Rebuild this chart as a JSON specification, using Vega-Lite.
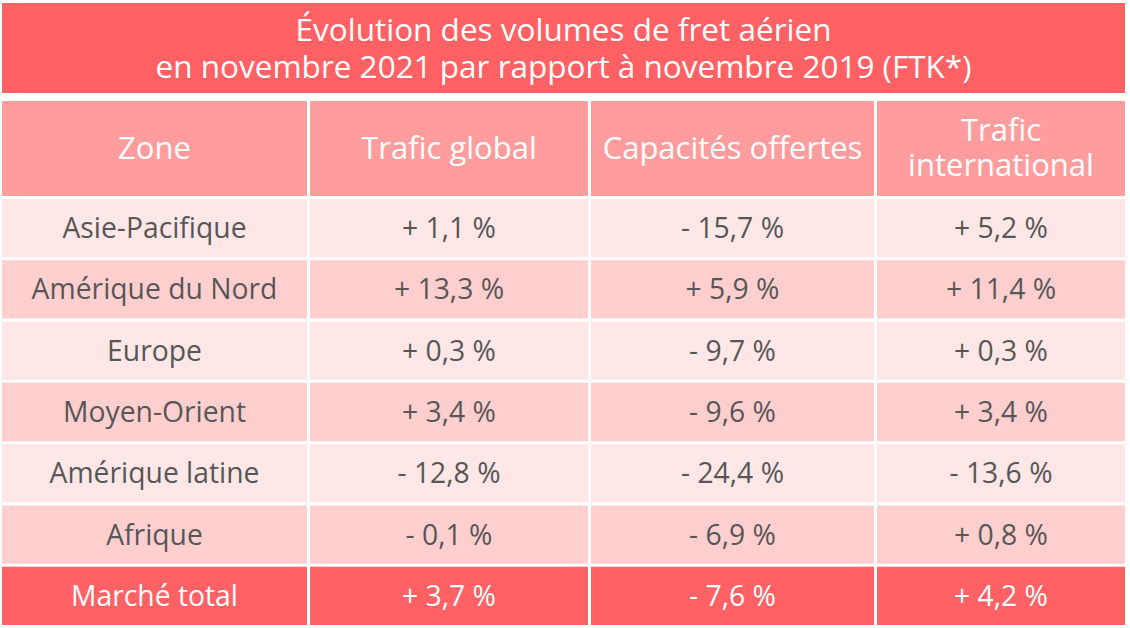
{
  "$schema": "https://vega.github.io/schema/vega-lite/v6.json",
  "padding": {"left": 2, "top": 3, "right": 5, "bottom": 3},
  "autosize": {"type": "pad"},
  "background": "white",
  "config": {
    "view": {"stroke": null},
    "text": {"font": "Open Sans"},
    "concat": {"spacing": 3}
  },
  "datasets": {
    "rows": [
      {"zone": "Asie-Pacifique", "global": "+ 1,1 %", "capacites": "- 15,7 %", "international": "+ 5,2 %", "kind": "light"},
      {"zone": "Amérique du Nord", "global": "+ 13,3 %", "capacites": "+ 5,9 %", "international": "+ 11,4 %", "kind": "dark"},
      {"zone": "Europe", "global": "+ 0,3 %", "capacites": "- 9,7 %", "international": "+ 0,3 %", "kind": "light"},
      {"zone": "Moyen-Orient", "global": "+ 3,4 %", "capacites": "- 9,6 %", "international": "+ 3,4 %", "kind": "dark"},
      {"zone": "Amérique latine", "global": "- 12,8 %", "capacites": "- 24,4 %", "international": "- 13,6 %", "kind": "light"},
      {"zone": "Afrique", "global": "- 0,1 %", "capacites": "- 6,9 %", "international": "+ 0,8 %", "kind": "dark"},
      {"zone": "Marché total", "global": "+ 3,7 %", "capacites": "- 7,6 %", "international": "+ 4,2 %", "kind": "total"}
    ]
  },
  "spacing": 8,
  "vconcat": [
    {
      "width": 1123,
      "height": 90,
      "view": {"fill": "#FF6164", "stroke": null},
      "data": {"values": [{"t": "Évolution des volumes de fret aérien\nen novembre 2021 par rapport à novembre 2019 (FTK*)"}]},
      "mark": {"type": "text", "lineBreak": "\n", "fontSize": 31.5, "lineHeight": 37, "color": "white", "baseline": "middle", "align": "center", "dy": -16},
      "encoding": {"text": {"field": "t"}}
    },
    {
      "spacing": 3,
      "vconcat": [
        {
          "spacing": 3,
          "hconcat": [
            {
              "width": 305, "height": 95,
              "view": {"fill": "#FF9C9D", "stroke": null},
              "data": {"values": [{"label": "Zone"}]},
              "mark": {"type": "text", "fontSize": 31, "color": "white", "baseline": "middle", "align": "center", "dy": 1},
              "encoding": {"text": {"field": "label"}}
            },
            {
              "width": 278, "height": 95,
              "view": {"fill": "#FF9C9D", "stroke": null},
              "data": {"values": [{"label": "Trafic global"}]},
              "mark": {"type": "text", "fontSize": 31, "color": "white", "baseline": "middle", "align": "center", "dy": 1},
              "encoding": {"text": {"field": "label"}}
            },
            {
              "width": 283, "height": 95,
              "view": {"fill": "#FF9C9D", "stroke": null},
              "data": {"values": [{"label": "Capacités offertes"}]},
              "mark": {"type": "text", "fontSize": 31, "color": "white", "baseline": "middle", "align": "center", "dy": 1},
              "encoding": {"text": {"field": "label"}}
            },
            {
              "width": 248, "height": 95,
              "view": {"fill": "#FF9C9D", "stroke": null},
              "data": {"values": [{"label": "Trafic\ninternational"}]},
              "mark": {"type": "text", "lineBreak": "\n", "fontSize": 31, "lineHeight": 35, "color": "white", "baseline": "middle", "align": "center", "dy": -17},
              "encoding": {"text": {"field": "label"}}
            }
          ]
        },
        {
          "spacing": 3,
          "hconcat": [
            {
              "width": 305, "height": 426,
              "data": {"name": "rows"},
              "encoding": {"y": {"field": "zone", "type": "nominal", "sort": null, "axis": null, "scale": {"paddingInner": 0.049, "paddingOuter": 0}}},
              "layer": [
                {"mark": {"type": "rect"}, "encoding": {"fill": {"field": "kind", "type": "nominal", "legend": null, "scale": {"domain": ["light", "dark", "total"], "range": ["#FFE7E7", "#FFCFD0", "#FF6164"]}}}},
                {"mark": {"type": "text", "fontSize": 28.3, "baseline": "middle", "align": "center", "dy": 2}, "encoding": {"text": {"field": "zone"}, "color": {"condition": {"test": "datum.kind === 'total'", "value": "#ffffff"}, "value": "#575757"}}}
              ]
            },
            {
              "width": 278, "height": 426,
              "data": {"name": "rows"},
              "encoding": {"y": {"field": "zone", "type": "nominal", "sort": null, "axis": null, "scale": {"paddingInner": 0.049, "paddingOuter": 0}}},
              "layer": [
                {"mark": {"type": "rect"}, "encoding": {"fill": {"field": "kind", "type": "nominal", "legend": null, "scale": {"domain": ["light", "dark", "total"], "range": ["#FFE7E7", "#FFCFD0", "#FF6164"]}}}},
                {"mark": {"type": "text", "fontSize": 28.3, "baseline": "middle", "align": "center", "dy": 2}, "encoding": {"text": {"field": "global"}, "color": {"condition": {"test": "datum.kind === 'total'", "value": "#ffffff"}, "value": "#575757"}}}
              ]
            },
            {
              "width": 283, "height": 426,
              "data": {"name": "rows"},
              "encoding": {"y": {"field": "zone", "type": "nominal", "sort": null, "axis": null, "scale": {"paddingInner": 0.049, "paddingOuter": 0}}},
              "layer": [
                {"mark": {"type": "rect"}, "encoding": {"fill": {"field": "kind", "type": "nominal", "legend": null, "scale": {"domain": ["light", "dark", "total"], "range": ["#FFE7E7", "#FFCFD0", "#FF6164"]}}}},
                {"mark": {"type": "text", "fontSize": 28.3, "baseline": "middle", "align": "center", "dy": 2}, "encoding": {"text": {"field": "capacites"}, "color": {"condition": {"test": "datum.kind === 'total'", "value": "#ffffff"}, "value": "#575757"}}}
              ]
            },
            {
              "width": 248, "height": 426,
              "data": {"name": "rows"},
              "encoding": {"y": {"field": "zone", "type": "nominal", "sort": null, "axis": null, "scale": {"paddingInner": 0.049, "paddingOuter": 0}}},
              "layer": [
                {"mark": {"type": "rect"}, "encoding": {"fill": {"field": "kind", "type": "nominal", "legend": null, "scale": {"domain": ["light", "dark", "total"], "range": ["#FFE7E7", "#FFCFD0", "#FF6164"]}}}},
                {"mark": {"type": "text", "fontSize": 28.3, "baseline": "middle", "align": "center", "dy": 2}, "encoding": {"text": {"field": "international"}, "color": {"condition": {"test": "datum.kind === 'total'", "value": "#ffffff"}, "value": "#575757"}}}
              ]
            }
          ]
        }
      ]
    }
  ]
}
